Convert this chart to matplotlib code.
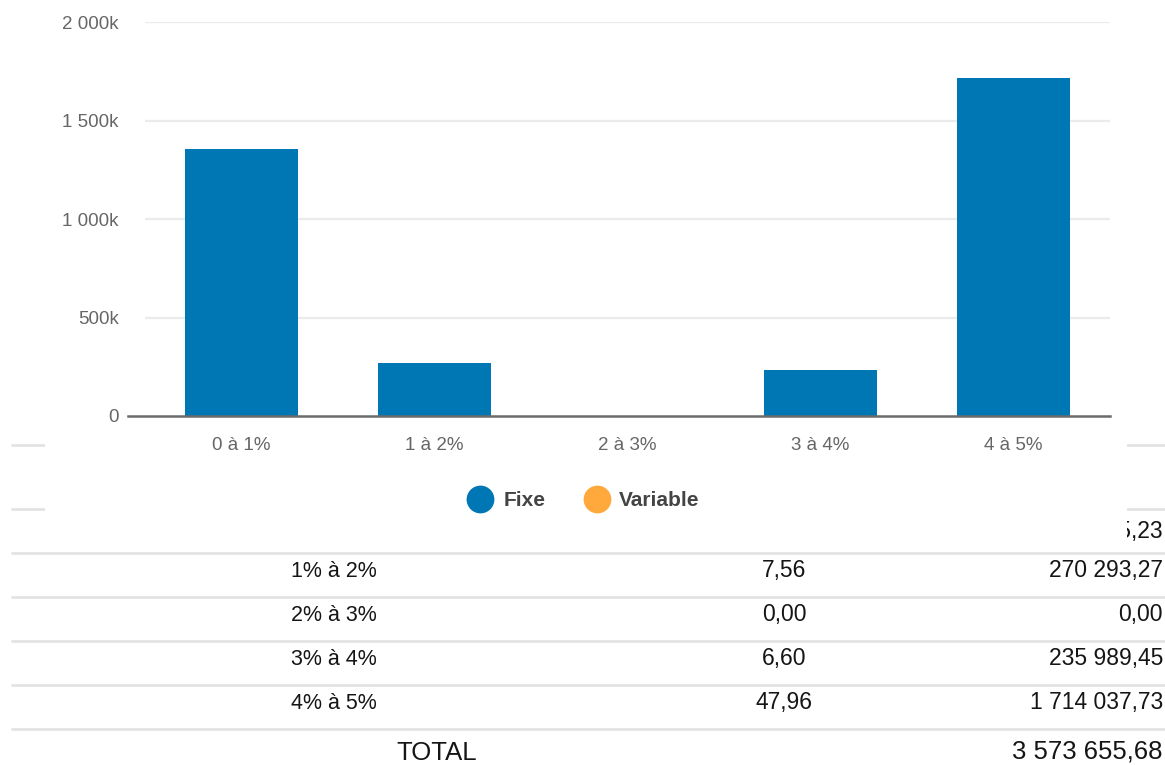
import matplotlib
matplotlib.use("Agg")
import matplotlib.pyplot as plt
from matplotlib.patches import Rectangle
from matplotlib.ticker import FuncFormatter

plt.rcParams['font.family'] = ['Liberation Sans', 'DejaVu Sans']

# ---- data ----
categories = ["0 à 1%", "1 à 2%", "2 à 3%", "3 à 4%", "4 à 5%"]
fixe = [1353335.23, 270293.27, 0.0, 235989.45, 1714037.73]
variable = [0.0, 0.0, 0.0, 0.0, 0.0]
y_ticks = [0, 500000, 1000000, 1500000, 2000000]

table_ranges = ["0% à 1%", "1% à 2%", "2% à 3%", "3% à 4%", "4% à 5%"]
table_pct = [37.88, 7.56, 0.00, 6.60, 47.96]
table_amount = fixe
total_label = "TOTAL"

BLUE = "#0077B5"
ORANGE = "#FFA93C"
TXT = "#151515"

W, H = 1165, 765
fig = plt.figure(figsize=(W / 100, H / 100), dpi=100)
fig.patch.set_facecolor("white")


def fr(s, dec=2):
    s = f"{s:,.{dec}f}"
    return s.replace(",", " ").replace(".", ",")


# ---- background "page" with table (pixel coordinates) ----
bg = fig.add_axes([0, 0, 1, 1], zorder=0)
bg.set_xlim(0, W)
bg.set_ylim(H, 0)
bg.axis("off")

for yl in [445, 509, 553, 597, 641, 685, 729]:
    bg.plot([11, W], [yl, yl], color="#e3e3e3", lw=2.0, solid_capstyle="butt")

row_base = [538, 577, 621, 665, 709]
for i, (r, p, a) in enumerate(zip(table_ranges, table_pct, table_amount)):
    bg.text(334, row_base[i], r, ha="center", va="baseline", fontsize=15.5, color=TXT)
    bg.text(784, row_base[i], fr(p), ha="center", va="baseline", fontsize=16.5, color=TXT)
    bg.text(1163, row_base[i], fr(a), ha="right", va="baseline", fontsize=16.5, color=TXT)

bg.text(437, 760, total_label, ha="center", va="baseline", fontsize=18.5, color=TXT)
bg.text(1163, 758, fr(sum(table_amount)), ha="right", va="baseline", fontsize=18.5, color=TXT)

# mask: the chart container overlays the top of the table
bg.add_patch(Rectangle((45, 0), 1127 - 45, 546, facecolor="white", edgecolor="none", zorder=10))

# legend (drawn as part of the chart container)
bg.scatter([480], [499], s=400, color=BLUE, zorder=11, linewidths=0)
bg.scatter([597], [499], s=400, color=ORANGE, zorder=11, linewidths=0)
bg.text(504, 506, "Fixe", ha="left", va="baseline", fontsize=15, fontweight="bold", color="#444444", zorder=12)
bg.text(619, 506, "Variable", ha="left", va="baseline", fontsize=15, fontweight="bold", color="#444444", zorder=12)

# ---- chart ----
left, right = 145, 1110
y0, y_top = 416, 22
ax = fig.add_axes([left / W, (H - y0) / H, (right - left) / W, (y0 - y_top) / H], zorder=1)
ax.set_facecolor("none")

x = list(range(len(categories)))
ax.bar(x, fixe, width=0.59, color=BLUE, zorder=3, label="Fixe")
ax.bar(x, variable, bottom=fixe, width=0.59, color=ORANGE, zorder=3, label="Variable")

ax.set_xlim(-0.5, len(categories) - 0.5)
ax.set_ylim(0, 2000000)
ax.set_yticks(y_ticks)
ax.yaxis.set_major_formatter(FuncFormatter(lambda v, p: "0" if v == 0 else fr(v / 1000, 0) + "k"))
ax.set_xticks(x)
ax.set_xticklabels(categories)

for v in y_ticks[1:]:
    ax.axhline(v, color="#ebebeb", lw=1.6, zorder=1)
ax.axhline(0, xmin=-17 / (right - left), xmax=1, color="#6b6b6b", lw=1.8, zorder=4, clip_on=False)

for s in ax.spines.values():
    s.set_visible(False)
ax.tick_params(axis="both", length=0, labelsize=13.5, colors="#666666")
ax.tick_params(axis="x", pad=15)
ax.tick_params(axis="y", pad=19)

fig.savefig("out.png", dpi=100, facecolor="white")
